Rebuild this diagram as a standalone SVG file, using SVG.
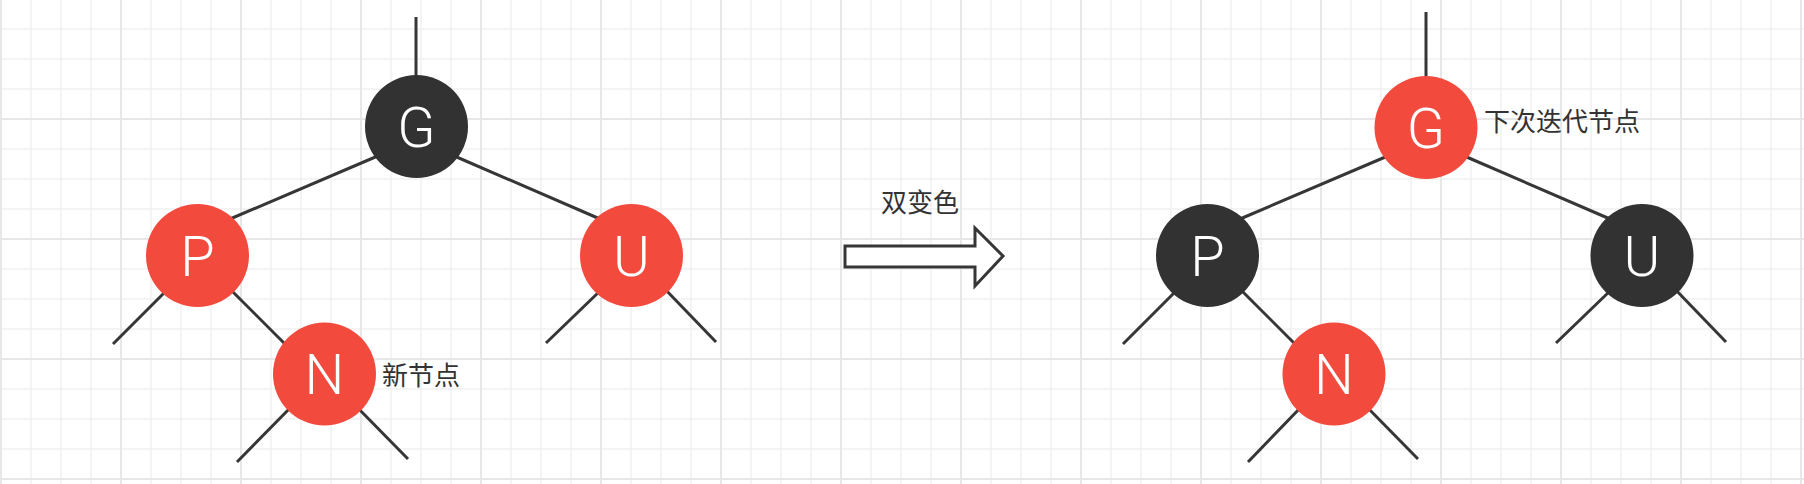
<svg xmlns="http://www.w3.org/2000/svg" width="1804" height="484" viewBox="0 0 1804 484">
<style>
.minor{stroke:#f1f1f1;stroke-width:1.5;fill:none}
.major{stroke:#e7e7e7;stroke-width:2;fill:none}
.edge{stroke:#363636;stroke-width:3;fill:none;stroke-linecap:butt}
.red{fill:#f24b3e}
.black{fill:#323232}
.lbl{font-family:"Roboto","Liberation Sans",Arial,sans-serif;font-weight:300;font-size:56px;fill:#ffffff;text-anchor:middle}
.note{font-family:"Noto Sans CJK SC","Noto Sans",sans-serif;font-size:26px;fill:#333333}
</style>
<rect x="0" y="0" width="1804" height="484" fill="#ffffff"/>
<g id="grid">
<path class="minor" d="M31 0V484M61 0V484M91 0V484M151 0V484M181 0V484M211 0V484M271 0V484M301 0V484M331 0V484M391 0V484M421 0V484M451 0V484M511 0V484M541 0V484M571 0V484M631 0V484M661 0V484M691 0V484M751 0V484M781 0V484M811 0V484M871 0V484M901 0V484M931 0V484M991 0V484M1021 0V484M1051 0V484M1111 0V484M1141 0V484M1171 0V484M1231 0V484M1261 0V484M1291 0V484M1351 0V484M1381 0V484M1411 0V484M1471 0V484M1501 0V484M1531 0V484M1591 0V484M1621 0V484M1651 0V484M1711 0V484M1741 0V484M1771 0V484M0 29H1804M0 59H1804M0 89H1804M0 149H1804M0 179H1804M0 209H1804M0 269H1804M0 299H1804M0 329H1804M0 389H1804M0 419H1804M0 449H1804"/>
<path class="major" d="M1 0V484M121 0V484M241 0V484M361 0V484M481 0V484M601 0V484M721 0V484M841 0V484M961 0V484M1081 0V484M1201 0V484M1321 0V484M1441 0V484M1561 0V484M1681 0V484M1801 0V484M0 119H1804M0 239H1804M0 359H1804M0 479H1804"/>
</g>
<g id="connectors">
<path class="edge" d="M416 17V90"/>
<path class="edge" d="M230 219L380 155"/>
<path class="edge" d="M452 155L600 219"/>
<path class="edge" d="M168 289L113 344"/>
<path class="edge" d="M228 287L290 349"/>
<path class="edge" d="M294 404L237 462"/>
<path class="edge" d="M353 403L408 459"/>
<path class="edge" d="M601 290L546 343"/>
<path class="edge" d="M662 286L716 342"/>
<path class="edge" d="M1426 12V90"/>
<path class="edge" d="M1240 219L1390 155"/>
<path class="edge" d="M1462 155L1610 219"/>
<path class="edge" d="M1178 289L1123 344"/>
<path class="edge" d="M1238 287L1300 349"/>
<path class="edge" d="M1304 404L1248 462"/>
<path class="edge" d="M1363 403L1418 459"/>
<path class="edge" d="M1611 290L1556 343"/>
<path class="edge" d="M1672 286L1726 342"/>
</g>
<g id="left-G"><circle class="black" cx="416.5" cy="126.5" r="51.5"/><text class="lbl" x="416.5" y="146.5">G</text></g>
<g id="left-P"><circle class="red" cx="197.5" cy="255.5" r="51.5"/><text class="lbl" x="197.5" y="275.5">P</text></g>
<g id="left-U"><circle class="red" cx="631.5" cy="255.5" r="51.5"/><text class="lbl" x="631.5" y="275.5">U</text></g>
<g id="left-N"><circle class="red" cx="324.5" cy="374" r="51.5"/><text class="lbl" x="324.5" y="394">N</text></g>
<g id="label-new"><text class="note" x="382" y="385">新节点</text></g>
<g id="transform-arrow">
<path d="M845 246H975V228L1003 256L975 286V267H845Z" fill="#ffffff" stroke="#363636" stroke-width="3" stroke-linejoin="miter"/>
<text class="note" x="881" y="212">双变色</text>
</g>
<g id="right-G"><circle class="red" cx="1426" cy="127.5" r="51.5"/><text class="lbl" x="1426" y="147.5">G</text></g>
<g id="right-P"><circle class="black" cx="1207.5" cy="255.5" r="51.5"/><text class="lbl" x="1207.5" y="275.5">P</text></g>
<g id="right-U"><circle class="black" cx="1642" cy="255.5" r="51.5"/><text class="lbl" x="1642" y="275.5">U</text></g>
<g id="right-N"><circle class="red" cx="1334" cy="374" r="51.5"/><text class="lbl" x="1334" y="394">N</text></g>
<g id="label-next"><text class="note" x="1484" y="131">下次迭代节点</text></g>
</svg>
